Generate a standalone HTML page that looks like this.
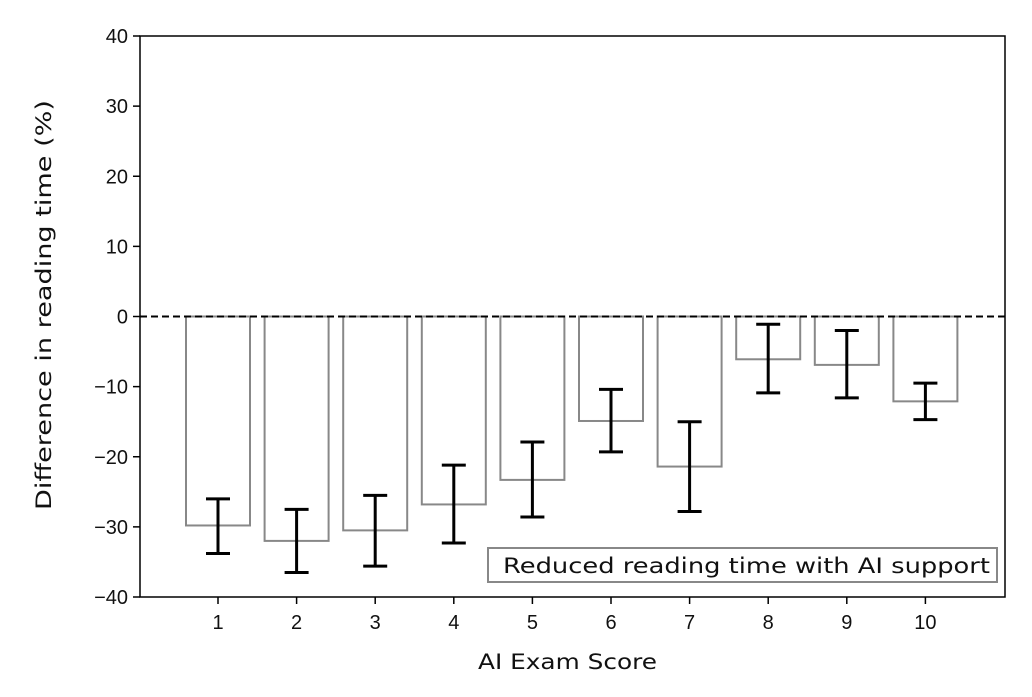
<!DOCTYPE html>
<html><head><meta charset="utf-8"><style>
body{margin:0;background:#fff;}
svg text{font-family:"DejaVu Sans","Liberation Sans",sans-serif;fill:#111;}
</style></head><body>
<svg id="c" width="1032" height="692" viewBox="0 0 1032 692"></svg>
<script>
const categories=["1","2","3","4","5","6","7","8","9","10"];
const means=[-29.8,-32,-30.5,-26.8,-23.3,-14.9,-21.4,-6.1,-6.9,-12.1];
const errLow=[-33.8,-36.5,-35.6,-32.3,-28.6,-19.3,-27.8,-10.9,-11.6,-14.7];
const errHigh=[-26,-27.5,-25.5,-21.2,-17.9,-10.4,-15,-1.1,-2,-9.5];
const yTicks=[40,30,20,10,0,-10,-20,-30,-40];
const L=140,R=1005,T=36,B=597,yMin=-40,yMax=40;
const svg=document.getElementById('c');const NS='http://www.w3.org/2000/svg';
function y(v){return T+(yMax-v)/(yMax-yMin)*(B-T);}
const step=78.6,x0=218;
function x(i){return x0+i*step;}
function mk(tag,attrs,parent){const e=document.createElementNS(NS,tag);for(const k in attrs)e.setAttribute(k,attrs[k]);(parent||svg).appendChild(e);return e;}
categories.forEach((c,i)=>{
 const bw=64;
 const b=mk('rect',{x:x(i)-bw/2,y:y(0),width:bw,height:y(means[i])-y(0),fill:'none',stroke:'#888','stroke-width':2});
 
 
 const g=mk('g',{stroke:'#000','stroke-width':3});
 
 
 mk('line',{x1:x(i),x2:x(i),y1:y(errLow[i]),y2:y(errHigh[i])},g);
 mk('line',{x1:x(i)-12,x2:x(i)+12,y1:y(errLow[i]),y2:y(errLow[i])},g);
 mk('line',{x1:x(i)-12,x2:x(i)+12,y1:y(errHigh[i]),y2:y(errHigh[i])},g);
 mk('line',{x1:x(i),x2:x(i),y1:B,y2:B+7,stroke:'#000','stroke-width':1.5});
 const t=mk('text',{x:x(i),y:B+32,'text-anchor':'middle','font-size':20,style:'font-family:"Liberation Sans",sans-serif'});t.textContent=c;
 
 
});
yTicks.forEach(v=>{
 mk('line',{x1:L-7,x2:L,y1:y(v),y2:y(v),stroke:'#000','stroke-width':1.5});
 const t=mk('text',{x:L-12,y:y(v)+7,'text-anchor':'end','font-size':20,style:'font-family:"Liberation Sans",sans-serif'});t.textContent=(v<0?'\u2212':'')+Math.abs(v);
 
 
});
const z=mk('line',{x1:L,x2:R,y1:y(0),y2:y(0),stroke:'#000','stroke-width':2,'stroke-dasharray':'7,4'});


const f=mk('rect',{x:L,y:T,width:R-L,height:B-T,fill:'none',stroke:'#000','stroke-width':1.5});


const lg=mk('g',{});


mk('rect',{x:488,y:548,width:509,height:34,fill:'#fff',stroke:'#888','stroke-width':2},lg);
const lt=mk('text',{x:503,y:573,'font-size':21,textLength:487,lengthAdjust:'spacingAndGlyphs'},lg);lt.textContent='Reduced reading time with AI support';
const xt=mk('text',{x:478,y:669,'font-size':21,textLength:179,lengthAdjust:'spacingAndGlyphs'});xt.textContent='AI Exam Score';


const yt=mk('text',{x:0,y:0,'font-size':21,textLength:410,lengthAdjust:'spacingAndGlyphs',transform:'translate(51,510) rotate(-90)'});yt.textContent='Difference in reading time (%)';


</script>
</body></html>
